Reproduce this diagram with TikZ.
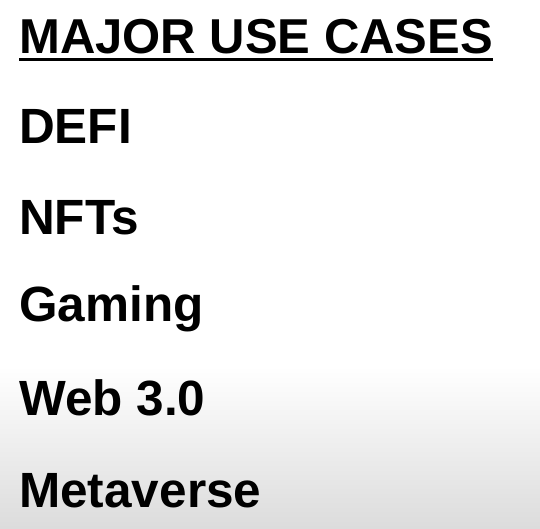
\documentclass[tikz,border=0pt]{standalone}
\usepackage{fontspec}
\setmainfont{Liberation Sans}
\usetikzlibrary{calc}
\definecolor{floorgray}{RGB}{220,220,220}
\tikzset{
	heading/.style={anchor=base west, inner sep=0pt, font=\fontsize{49}{49}\selectfont\bfseries},
	usecase/.style={anchor=base west, inner sep=0pt, font=\fontsize{49.5}{49.5}\selectfont\bfseries}
}

\begin{document}
\begin{tikzpicture}[x=1pt, y=1pt]
			%%%%% START %%%%%
			
			\useasboundingbox (0, 0) rectangle (540, -528);
			\fill[white] (0, 0) rectangle (540, -366);
			\shade[top color=white, bottom color=floorgray] (0, -366) rectangle (540, -528);
			
			\node[heading] (title) at (19, -53) {MAJOR USE CASES};
			\draw[line width=3pt] ($(title.base west)+(0, -6.5)$) -- ($(title.base east)+(0, -6.5)$);
			
			\node[usecase] (defi) at (19, -143) {DEFI};
			\node[usecase] (nfts) at (19, -234) {NFTs};
			\node[usecase] (gaming) at (19, -321) {Gaming};
			\node[usecase] (web) at (19, -415) {Web 3.0};
			\node[usecase] (metaverse) at (19, -507) {Metaverse};
			
			%%%%% END %%%%%
		\end{tikzpicture}
\end{document}
